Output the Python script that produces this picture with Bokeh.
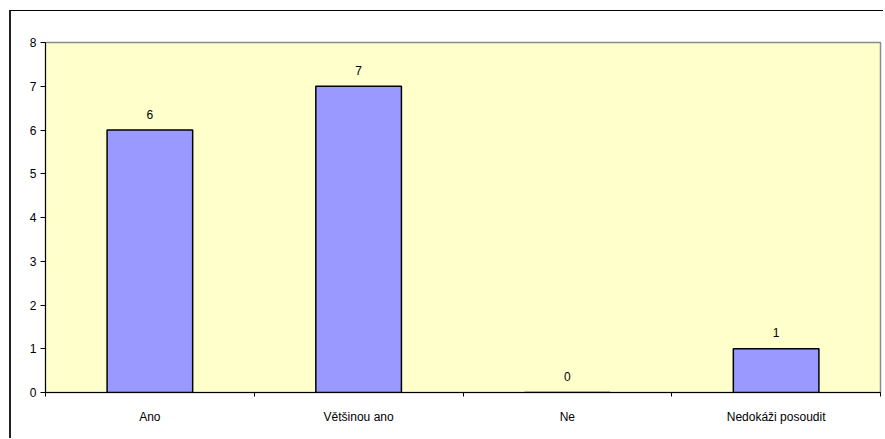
from bokeh.plotting import figure
from bokeh.models import ColumnDataSource, FixedTicker, Range1d
from bokeh.core.properties import value
from bokeh.embed import file_html
from bokeh.resources import INLINE

# Survey answers and counts
categories = ["Ano", "Většinou ano", "Ne", "Nedokáži posoudit"]
counts = [6, 7, 0, 1]
y_ticks = [0, 1, 2, 3, 4, 5, 6, 7, 8]

FONT = "Liberation Sans"

centers = [i + 0.5 for i in range(len(categories))]
source = ColumnDataSource(data=dict(
    x=centers,
    top=counts,
    label=[str(v) for v in counts],
))

p = figure(
    width=874, height=428,
    x_range=Range1d(0, len(categories)),
    y_range=Range1d(0, 8),
    output_backend="svg", toolbar_location=None,
    min_border_left=34, min_border_right=5,
    min_border_top=31, min_border_bottom=47,
)
# chart area border (left and top edges visible)
p.styles = {
    "margin-left": "9px",
    "margin-top": "10px",
    "border-left": "2px solid #222222",
    "border-top": "1px solid black",
}
p.background_fill_color = "#FFFFCC"
p.border_fill_color = "white"
p.outline_line_color = "#8c8c8c"
p.outline_line_width = 1.5
p.grid.visible = False

p.vbar(x="x", top="top", bottom=0, width=0.41, source=source,
       fill_color="#9999FF", line_color="black", line_width=1.5)

p.text(x="x", y="top", text="label", source=source,
       text_align="center", text_baseline="middle", y_offset=-16,
       text_font_size="12px", text_color="black", text_font=value(FONT))

# x axis: labels at category centres, tick marks on category boundaries
xt = FixedTicker(ticks=centers, minor_ticks=list(range(len(categories) + 1)))
p.xaxis.ticker = xt
p.xaxis.major_label_overrides = {c: name for c, name in zip(centers, categories)}
p.xaxis.major_tick_out = 0
p.xaxis.major_tick_in = 0
p.xaxis.minor_tick_out = 4
p.xaxis.minor_tick_in = 0
p.xaxis.minor_tick_line_color = "black"
p.xaxis.major_label_standoff = 13

p.yaxis.ticker = FixedTicker(ticks=y_ticks, minor_ticks=[])
p.yaxis.major_tick_out = 5
p.yaxis.major_tick_in = 0
p.yaxis.major_label_standoff = 4

for ax in (p.xaxis, p.yaxis):
    ax.axis_line_color = "black"
    ax.axis_line_width = 1
    ax.major_tick_line_color = "black"
    ax.major_label_text_font = FONT
    ax.major_label_text_font_size = "12px"
    ax.major_label_text_color = "black"

open("out.html", "w").write(file_html(p, INLINE))
